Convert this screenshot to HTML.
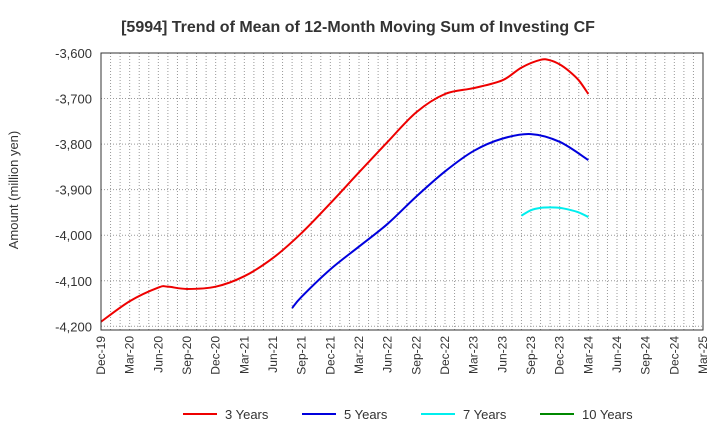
<!DOCTYPE html>
<html><head><meta charset="utf-8"><style>
body{margin:0;background:#fff;font-family:"Liberation Sans",sans-serif}
</style></head><body>
<svg width="720" height="440" xmlns="http://www.w3.org/2000/svg">
<text x="358" y="32" text-anchor="middle" font-size="16" font-weight="bold" fill="#333">[5994]  Trend of Mean of 12-Month Moving Sum of Investing CF</text>
<text transform="translate(18,190) rotate(-90)" text-anchor="middle" font-size="13" fill="#333">Amount (million yen)</text>
<g id="grid"></g><g id="series"></g><g id="axes"></g>
<rect x="101" y="53" width="602" height="277" fill="none" stroke="#333"/>
<g id="legend"></g>
</svg>
<script>
const xLabels=["Dec-19","Mar-20","Jun-20","Sep-20","Dec-20","Mar-21","Jun-21","Sep-21","Dec-21","Mar-22","Jun-22","Sep-22","Dec-22","Mar-23","Jun-23","Sep-23","Dec-23","Mar-24","Jun-24","Sep-24","Dec-24","Mar-25"];
const yTicks=[-3600,-3700,-3800,-3900,-4000,-4100,-4200];
// [monthIndex from Dec-19, value]
const red=[[0,-4190],[3,-4145],[6,-4115],[7,-4113],[9,-4118],[12,-4113],[15,-4090],[18,-4050],[21,-3995],[24,-3930],[27,-3862],[30,-3795],[33,-3730],[36,-3690],[39,-3677],[42,-3660],[44,-3632],[46,-3615],[47,-3616],[48,-3625],[49,-3640],[50,-3660],[51,-3690]];
const blue=[[20,-4160],[21,-4135],[24,-4075],[27,-4025],[30,-3975],[33,-3915],[36,-3860],[39,-3815],[42,-3788],[45,-3778],[48,-3795],[51,-3835]];
const cyan=[[44,-3957],[45,-3945],[46,-3940],[47,-3939],[48,-3940],[49,-3944],[50,-3950],[51,-3960]];
const green=[];
const NS="http://www.w3.org/2000/svg";
const X=m=>101+m*(602/63);
const Y=v=>53+(-3600-v)*0.4555;
function mk(t,a,p){const e=document.createElementNS(NS,t);for(const k in a)e.setAttribute(k,a[k]);p.appendChild(e);return e;}
const grid=document.getElementById('grid'),axes=document.getElementById('axes'),ser=document.getElementById('series'),leg=document.getElementById('legend');
for(let m=1;m<63;m++){const l=mk('line',{x1:X(m),x2:X(m),y1:53,y2:330,stroke:'#999','stroke-dasharray':'1,2'},grid);

}
yTicks.forEach(v=>{const l=mk('line',{x1:101,x2:703,y1:Y(v),y2:Y(v),stroke:'#999','stroke-dasharray':'1,2'},grid);


const t=mk('text',{x:92,y:Y(v)+5,'text-anchor':'end','font-size':13,fill:'#333'},axes);


t.textContent=v.toLocaleString('en-US');});
xLabels.forEach((s,i)=>{const x=X(i*3);const t=mk('text',{transform:`translate(${x+4},336) rotate(-90)`,'text-anchor':'end','font-size':12,fill:'#333'},axes);


t.textContent=s;});
function path(pts){if(!pts.length)return '';const p=pts.map(d=>[X(d[0]),Y(d[1])]);let s=`M${p[0][0]},${p[0][1]}`;
for(let i=0;i<p.length-1;i++){const p0=p[i-1]||p[i],p1=p[i],p2=p[i+1],p3=p[i+2]||p2;
s+=` C${p1[0]+(p2[0]-p0[0])/6},${p1[1]+(p2[1]-p0[1])/6} ${p2[0]-(p3[0]-p1[0])/6},${p2[1]-(p3[1]-p1[1])/6} ${p2[0]},${p2[1]}`;}return s;}
[[red,'#e00','3 Years'],[blue,'#00d','5 Years'],[cyan,'#0ee','7 Years'],[green,'#080','10 Years']].forEach((d,i)=>{
if(d[0].length){const p=mk('path',{d:path(d[0]),fill:'none',stroke:d[1],'stroke-width':2},ser);

}
const lx=[183,302,421,540][i];
const g=mk('g',{},leg);


mk('line',{x1:lx,x2:lx+34,y1:414,y2:414,stroke:d[1],'stroke-width':2},g);
const t=mk('text',{x:lx+42,y:419,'font-size':13,fill:'#333'},g);t.textContent=d[2];});
</script>
</body></html>
